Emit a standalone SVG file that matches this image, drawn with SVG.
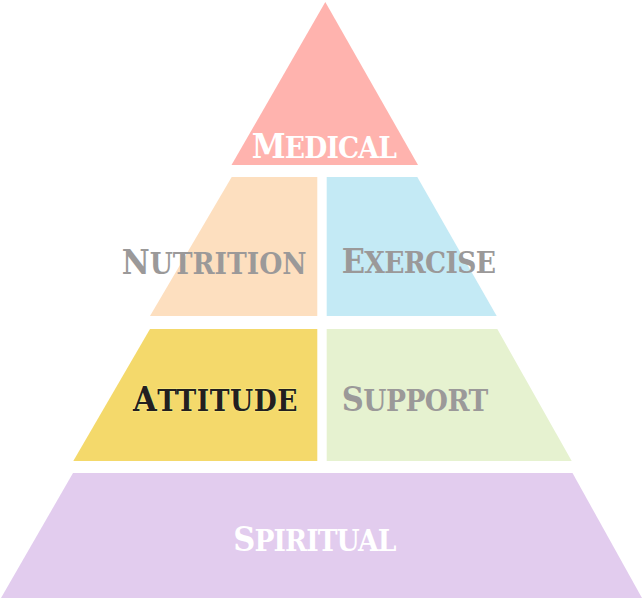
<svg xmlns="http://www.w3.org/2000/svg" width="643" height="598" viewBox="0 0 643 598">
<style>
.lbl{font-family:"DejaVu Serif Condensed","DejaVu Serif","Liberation Serif",serif;font-stretch:condensed;font-weight:bold;font-size:34px;}
.sc{font-size:29.5px;}
.white{fill:#ffffff;}
.gray{fill:#9b9999;}
.dark{fill:#231f20;stroke:#f9ee8a;stroke-width:1;paint-order:stroke;}
</style>
<rect width="643" height="598" fill="#ffffff"/>
<g id="medical">
<polygon points="325.3,2 418,165 231.5,165" fill="#ffb3ae"/>
<text class="lbl white" x="251.7" y="158" letter-spacing="-0.8">M<tspan class="sc">EDICAL</tspan></text>
</g>
<g id="nutrition">
<polygon points="231.7,177 317.3,177 317.3,316 150,316" fill="#fddfbf"/>
<text class="lbl gray" x="121.7" y="274">N<tspan class="sc">UTRITION</tspan></text>
</g>
<g id="exercise">
<polygon points="326.7,177 417.3,177 496.7,316 326.7,316" fill="#c4eaf5"/>
<text class="lbl gray" x="341.7" y="273" letter-spacing="-0.7">E<tspan class="sc">XERCISE</tspan></text>
</g>
<g id="attitude">
<polygon points="150,329 317.3,329 317.3,461 73.3,461" fill="#f4d96b"/>
<text class="lbl dark" x="133" y="411" letter-spacing="0.55">A<tspan class="sc">TTITUDE</tspan></text>
</g>
<g id="support">
<polygon points="326.7,329 497.3,329 571.7,461 326.7,461" fill="#e6f2d0"/>
<text class="lbl gray" x="341.7" y="411" letter-spacing="-0.5">S<tspan class="sc">UPPORT</tspan></text>
</g>
<g id="spiritual">
<polygon points="73,473 572.5,473 642,598 1,598" fill="#e2ccee"/>
<text class="lbl white" x="233.3" y="551" letter-spacing="-0.9">S<tspan class="sc">PIRITUAL</tspan></text>
</g>
<g id="connectors"></g>
</svg>
